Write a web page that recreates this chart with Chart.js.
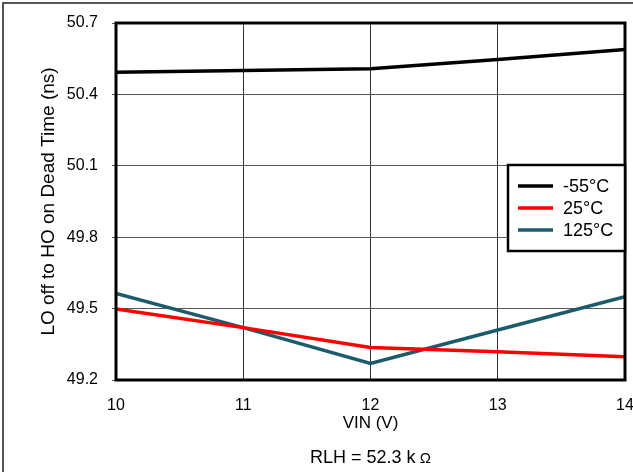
<!DOCTYPE html>
<html>
<head>
<meta charset="utf-8">
<script src="https://cdn.jsdelivr.net/npm/chart.js@4.4.1/dist/chart.umd.min.js"></script>
<style>
  html, body { margin: 0; padding: 0; background: #fff; }
  #wrap { width: 633px; height: 472px; position: relative; }
</style>
</head>
<body>
<div id="wrap"><canvas id="myChart"></canvas></div>
<script>
// values
const vin = [10, 11, 12, 13, 14];
const tMinus55 = [50.493, 50.500, 50.508, 50.547, 50.589];
const t25 = [49.498, 49.420, 49.337, 49.319, 49.298];
const t125 = [49.564, 49.420, 49.270, 49.410, 49.550];
const seriesNames = ['-55°C', '25°C', '125°C'];
const seriesColors = ['#000000', '#ff0000', '#1b5b6b'];
const yTicks = [49.2, 49.5, 49.8, 50.1, 50.4, 50.7];
const caption = ['RLH = 52.3 k', ' \u03A9'];

const FONT = 'Liberation Sans, Arial, sans-serif';

function pts(ys) {
    return vin.map((x, i) => ({ x: x, y: ys[i] }));
}

const framePlugin = {
    id: 'frame',
    beforeDraw(chart) {
        const c = chart.ctx;
        c.save();
        c.fillStyle = '#fff';
        c.fillRect(0, 0, chart.width, chart.height);
        c.strokeStyle = '#555';
        c.lineWidth = 2;
        c.beginPath();
        c.moveTo(3, chart.height);
        c.lineTo(3, 3);
        c.lineTo(chart.width, 3);
        c.stroke();
        c.restore();
    },
    afterDraw(chart) {
        const a = chart.chartArea;
        const c = chart.ctx;
        c.save();
        c.strokeStyle = '#000';
        c.lineWidth = 3;
        c.strokeRect(a.left, a.top, a.right - a.left, a.bottom - a.top);

        // legend box inside the plot
        const bx = a.right - 117, by = a.top + 142, bw = 117, bh = 86;
        c.fillStyle = '#fff';
        c.fillRect(bx, by, bw, bh);
        c.lineWidth = 2.5;
        c.strokeRect(bx, by, bw, bh);
        c.font = '18px ' + FONT;
        c.textBaseline = 'middle';
        c.textAlign = 'left';
        seriesNames.forEach((name, i) => {
            const y = by + 21 + i * 22;
            c.strokeStyle = seriesColors[i];
            c.lineWidth = 3.5;
            c.beginPath();
            c.moveTo(bx + 10, y);
            c.lineTo(bx + 45, y);
            c.stroke();
            c.fillStyle = '#000';
            c.fillText(name, bx + 55, y + 1);
        });

        // caption under the axis, centred on the plot
        c.fillStyle = '#000';
        c.textBaseline = 'alphabetic';
        c.font = '18px ' + FONT;
        const w1 = c.measureText(caption[0]).width;
        c.font = '15px ' + FONT;
        const w2 = c.measureText(caption[1]).width;
        const cx = (a.left + a.right) / 2 - (w1 + w2) / 2;
        c.font = '18px ' + FONT;
        c.fillText(caption[0], cx, 463);
        c.font = '15px ' + FONT;
        c.fillText(caption[1], cx + w1, 463);
        c.restore();
    }
};

const ctx = document.getElementById('myChart');
new Chart(ctx, {
    type: 'line',
    data: {
        datasets: [
            { label: seriesNames[0], data: pts(tMinus55), borderColor: seriesColors[0], borderWidth: 3.5 },
            { label: seriesNames[1], data: pts(t25), borderColor: seriesColors[1], borderWidth: 3.5 },
            { label: seriesNames[2], data: pts(t125), borderColor: seriesColors[2], borderWidth: 3.5 }
        ]
    },
    options: {
        responsive: true,
        maintainAspectRatio: false,
        animation: false,
        layout: { padding: { left: 0, right: 8, top: 23, bottom: 38 } },
        elements: {
            point: { radius: 0 },
            line: { tension: 0 }
        },
        plugins: {
            legend: { display: false },
            tooltip: { enabled: false },
            title: { display: false }
        },
        scales: {
            x: {
                type: 'linear',
                min: 10,
                max: 14,
                afterFit(axis) {
                    axis.height = 54;
                    axis.paddingLeft = 0;
                    axis.paddingRight = 0;
                },
                ticks: {
                    stepSize: 1,
                    color: '#000',
                    font: { family: FONT, size: 16 },
                    padding: 4
                },
                grid: { color: '#333', lineWidth: 1, tickLength: 12, tickColor: 'rgba(0,0,0,0)' },
                border: { display: false },
                title: {
                    display: true,
                    text: 'VIN (V)',
                    color: '#000',
                    font: { family: FONT, size: 17 },
                    padding: { top: 0, bottom: 0 }
                }
            },
            y: {
                min: 49.2,
                max: 50.7,
                afterBuildTicks(axis) {
                    axis.ticks = yTicks.map(v => ({ value: v }));
                },
                afterFit(axis) {
                    axis.width = 116;
                    axis.paddingTop = 0;
                    axis.paddingBottom = 0;
                },
                ticks: {
                    color: '#000',
                    font: { family: FONT, size: 16 },
                    padding: 14,
                    callback: v => v.toFixed(1)
                },
                grid: { color: '#555', lineWidth: 1, tickLength: 4 },
                border: { display: false },
                title: {
                    display: true,
                    text: 'LO off to HO on Dead Time (ns)',
                    color: '#000',
                    font: { family: FONT, size: 19 },
                    padding: { top: 37, bottom: 0 }
                }
            }
        }
    },
    plugins: [framePlugin]
});
</script>
</body>
</html>
